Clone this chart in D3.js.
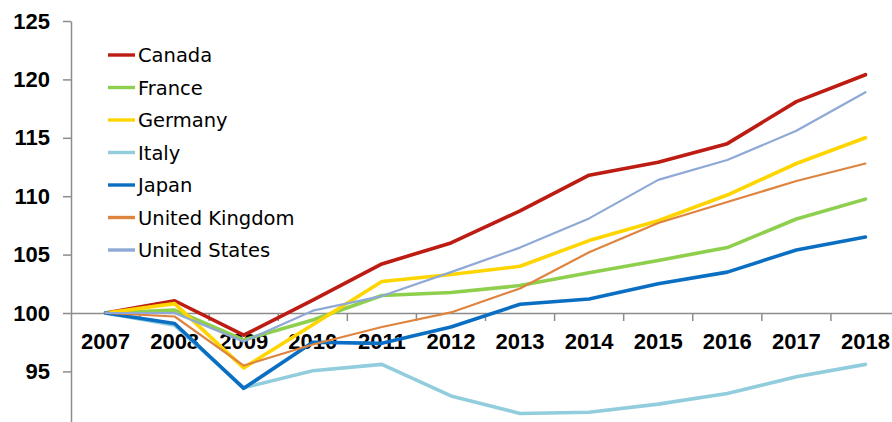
<!DOCTYPE html>
<html>
<head>
<meta charset="utf-8">
<script src="https://cdn.jsdelivr.net/npm/d3@7"></script>
<style>
  html, body { margin: 0; padding: 0; background: #fff; }
  svg { display: block; }
</style>
</head>
<body>
<svg id="chart" width="892" height="422"></svg>
<script>
// Real GDP index, 2007 = 100
const years = ["2007","2008","2009","2010","2011","2012","2013","2014","2015","2016","2017","2018"];
const canada        = [100, 101.05, 98.1, 101.1, 104.2, 106.0, 108.75, 111.8, 112.9, 114.5, 118.1, 120.4];
const france        = [100, 100.25, 97.7, 99.4, 101.5, 101.75, 102.35, 103.45, 104.5, 105.6, 108.05, 109.75];
const germany       = [100, 100.8, 95.3, 99.0, 102.7, 103.3, 104.0, 106.2, 107.9, 110.1, 112.8, 115.0];
const italy         = [100, 98.95, 93.6, 95.05, 95.6, 92.9, 91.4, 91.5, 92.2, 93.1, 94.55, 95.6];
const japan         = [100, 99.1, 93.55, 97.5, 97.4, 98.8, 100.75, 101.2, 102.5, 103.5, 105.4, 106.5];
const unitedKingdom = [100, 99.7, 95.5, 97.3, 98.8, 100.05, 102.1, 105.2, 107.7, 109.5, 111.3, 112.8];
const unitedStates  = [100, 100.0, 97.55, 100.2, 101.45, 103.5, 105.6, 108.1, 111.4, 113.1, 115.6, 118.9];
const yTicks = [90, 95, 100, 105, 110, 115, 120, 125];

const series = [
  { name: "Canada",         values: canada,        color: "#BC1C12", width: 3.6 },
  { name: "France",         values: france,        color: "#8FCF4E", width: 3.6 },
  { name: "Germany",        values: germany,       color: "#FFD500", width: 3.6 },
  { name: "Italy",          values: italy,         color: "#92CDDD", width: 3.6 },
  { name: "Japan",          values: japan,         color: "#0A6FC2", width: 3.6 },
  { name: "United Kingdom", values: unitedKingdom, color: "#DE843F", width: 2.2 },
  { name: "United States",  values: unitedStates,  color: "#8FA9D6", width: 2.2 }
];

const svg = d3.select("#chart");
const axisColor = "#8c8c8c";

const x = d3.scaleBand().domain(years).range([71, 900]).paddingInner(0).paddingOuter(0);
const y = d3.scaleLinear().domain([90, 125]).range([429.8, 21]);
const cx = d => x(d) + x.bandwidth() / 2;

// Y axis
const yAxis = svg.append("g")
  .attr("transform", "translate(71,0)")
  .call(d3.axisLeft(y).tickValues(yTicks).tickSize(8).tickSizeOuter(0).tickPadding(13).tickFormat(d3.format("d")));
yAxis.select(".domain").attr("stroke", axisColor).attr("stroke-width", 1.5);
yAxis.selectAll(".tick line").attr("stroke", axisColor).attr("stroke-width", 1.5);
yAxis.selectAll(".tick text")
  .attr("fill", "#000")
  .style("font-family", "'Liberation Sans', Arial, sans-serif")
  .style("font-weight", "bold")
  .style("font-size", "22px");

// X axis crossing at 100
const x0 = y(100);
const xAxis = svg.append("g")
  .attr("transform", `translate(0,${x0})`)
  .call(d3.axisBottom(x).tickSize(0).tickSizeOuter(0).tickPadding(20));
xAxis.select(".domain").attr("stroke", axisColor).attr("stroke-width", 1.5);
xAxis.selectAll(".tick text")
  .attr("fill", "#000")
  .style("font-family", "'Liberation Sans', Arial, sans-serif")
  .style("font-weight", "bold")
  .style("font-size", "22px");

// Category boundary ticks
svg.append("g").selectAll("line")
  .data(years.slice(1))
  .join("line")
  .attr("x1", d => x(d)).attr("x2", d => x(d))
  .attr("y1", x0).attr("y2", x0 + 8)
  .attr("stroke", axisColor).attr("stroke-width", 1.5);

// Series lines
const line = d3.line().x((d, i) => cx(years[i])).y(d => y(d));
svg.append("g").selectAll("path")
  .data(series)
  .join("path")
  .attr("d", s => line(s.values))
  .attr("fill", "none")
  .attr("stroke", s => s.color)
  .attr("stroke-width", s => s.width)
  .attr("stroke-linejoin", "round")
  .attr("stroke-linecap", "round");

// Legend
const legend = svg.append("g");
const rows = legend.selectAll("g")
  .data(series)
  .join("g")
  .attr("transform", (s, i) => `translate(0,${55 + i * 32.5})`);
rows.append("line")
  .attr("x1", 108).attr("x2", 135)
  .attr("y1", 0).attr("y2", 0)
  .attr("stroke", s => s.color)
  .attr("stroke-width", 3.4);
rows.append("text")
  .attr("x", 138)
  .attr("dy", "0.36em")
  .attr("fill", "#000")
  .style("font-family", "'DejaVu Sans', Verdana, sans-serif")
  .style("font-size", "19.5px")
  .text(s => s.name);
</script>
</body>
</html>
